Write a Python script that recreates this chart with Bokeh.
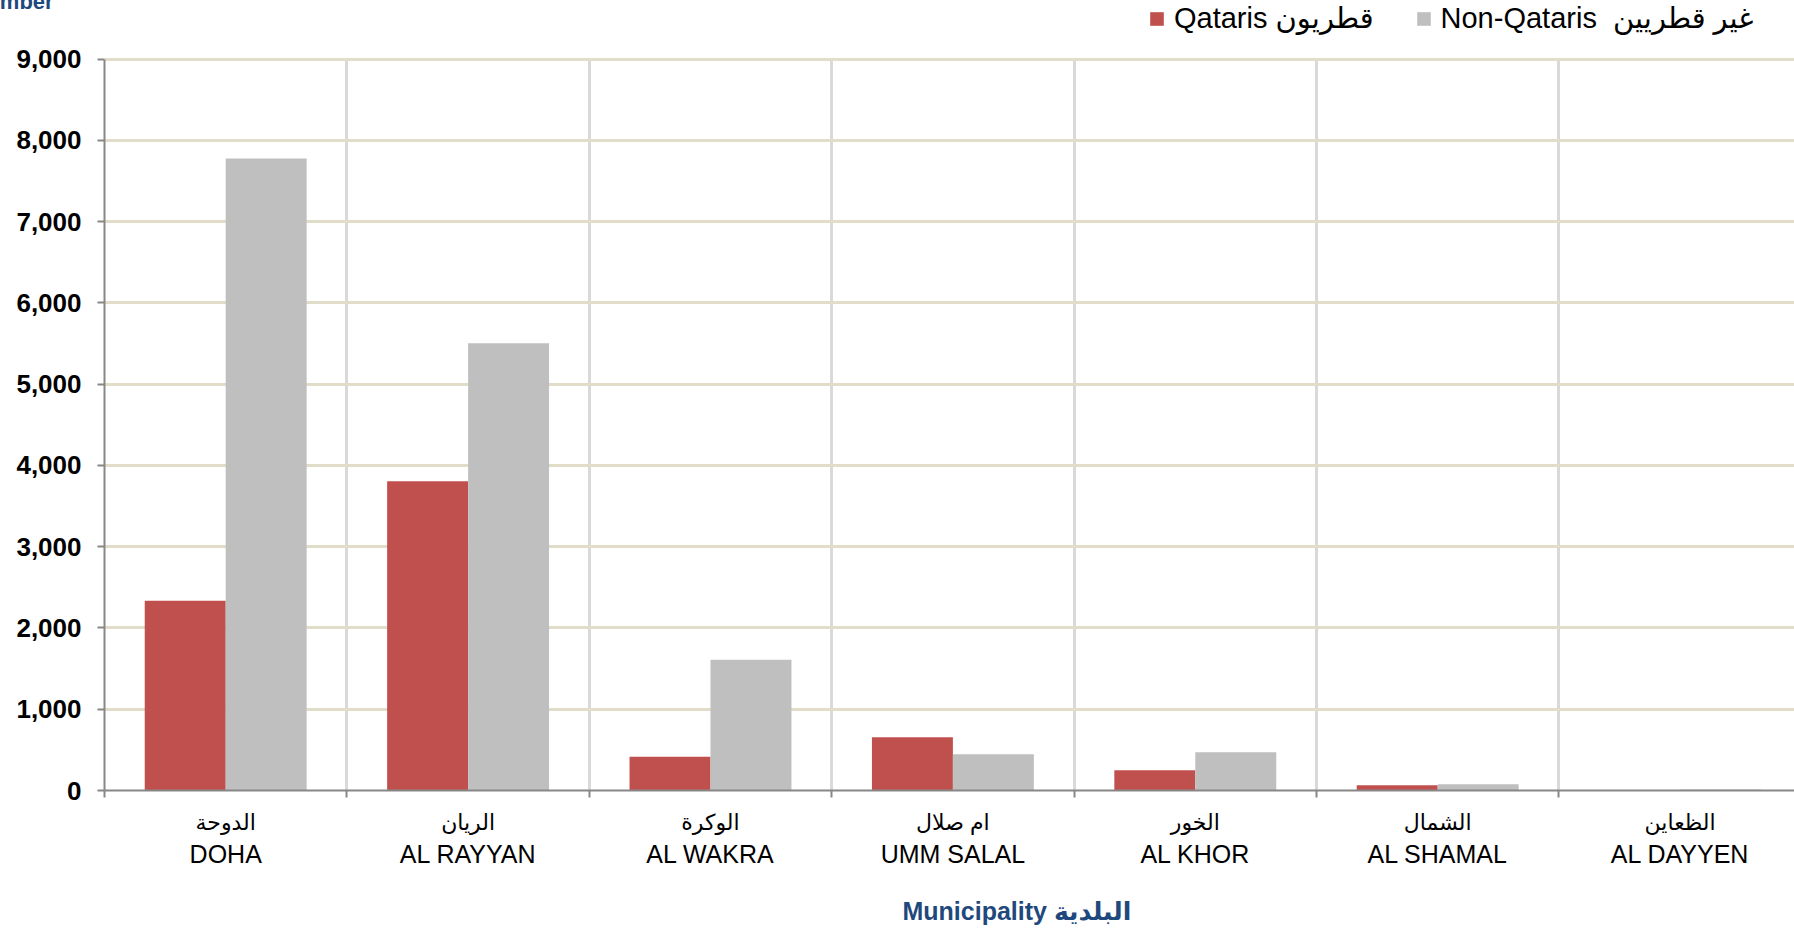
from bokeh.plotting import figure
from bokeh.models import (ColumnDataSource, Range1d, FixedTicker, LinearAxis,
                          NumeralTickFormatter, Title, Legend, LegendItem)
from bokeh.transform import dodge
from bokeh.embed import file_html
from bokeh.resources import INLINE

# ---------------- data ----------------
categories_en = ["DOHA", "AL RAYYAN", "AL WAKRA", "UMM SALAL", "AL KHOR", "AL SHAMAL", "AL DAYYEN"]
categories_ar = ["الدوحة", "الريان", "الوكرة", "ام صلال", "الخور", "الشمال", "الظعاين"]
qataris = [2334, 3807, 416, 655, 250, 65, 3]
non_qataris = [7776, 5505, 1610, 446, 472, 78, 12]
y_ticks = [0, 1000, 2000, 3000, 4000, 5000, 6000, 7000, 8000, 9000]
series_names = ["Qataris قطريون", "Non-Qataris  غير قطريين"]
y_title = "Number"
x_title = "Municipality البلدية"

n = len(categories_en)
centers = [i + 0.5 for i in range(n)]
bounds = list(range(n + 1))
y_min, y_max = y_ticks[0], y_ticks[-1]

src = ColumnDataSource(dict(x=centers, q=qataris, nq=non_qataris))

FONT = "Liberation Sans, Arial, DejaVu Sans"
RED = "#C0504D"
GREY = "#BFBFBF"
BLUE = "#1F497D"
AXIS_GREY = "#878787"

# the frame reaches the top of the page (room for the legend); the value axis stops at 9,000
p = figure(width=1794, height=933, output_backend="svg", toolbar_location=None,
           x_range=Range1d(0, 6.972), y_range=Range1d(0, 9685),
           x_axis_location=None, min_border_left=104, min_border_right=0,
           min_border_top=0, min_border_bottom=143,
           background_fill_color="white", border_fill_color="white",
           outline_line_color=None)

w = 0.334
r_q = p.vbar(x=dodge("x", -0.167, range=p.x_range), top="q", width=w, source=src,
             fill_color=RED, line_color=None)
r_nq = p.vbar(x=dodge("x", 0.167, range=p.x_range), top="nq", width=w, source=src,
              fill_color=GREY, line_color=None)

# y axis
ya = p.yaxis[0]
ya.ticker = FixedTicker(ticks=y_ticks)
ya.bounds = (y_min, y_max)
ya.formatter = NumeralTickFormatter(format="0,0")
ya.major_label_text_font = FONT
ya.major_label_text_font_size = "26px"
ya.major_label_text_font_style = "bold"
ya.major_label_text_color = "black"
ya.major_label_standoff = 16
ya.major_tick_out = 7
ya.major_tick_in = 0
ya.major_tick_line_color = AXIS_GREY
ya.major_tick_line_width = 2
ya.minor_tick_line_color = None
ya.axis_line_color = AXIS_GREY
ya.axis_line_width = 2

# x axis: Arabic names (with boundary tick marks)
xa = LinearAxis(ticker=FixedTicker(ticks=centers, minor_ticks=bounds),
                major_label_overrides={c: a for c, a in zip(centers, categories_ar)})
xa.major_label_text_font = FONT
xa.major_label_text_font_size = "22px"
xa.major_label_text_color = "black"
xa.major_tick_line_color = None
xa.major_tick_out = 0
xa.major_tick_in = 0
xa.major_label_standoff = 12
xa.minor_tick_out = 7
xa.minor_tick_in = 0
xa.minor_tick_line_color = AXIS_GREY
xa.minor_tick_line_width = 2
xa.axis_line_color = AXIS_GREY
xa.axis_line_width = 2
p.add_layout(xa, "below")

# x axis: English names
xb = LinearAxis(ticker=FixedTicker(ticks=centers),
                major_label_overrides={c: e for c, e in zip(centers, categories_en)})
xb.major_label_text_font = FONT
xb.major_label_text_font_size = "25px"
xb.major_label_text_color = "black"
xb.major_tick_line_color = None
xb.minor_tick_line_color = None
xb.major_tick_out = 0
xb.major_tick_in = 0
xb.major_label_standoff = 2
xb.axis_line_color = None
p.add_layout(xb, "below")

# x title under the axes (an empty first line moves it down)
p.add_layout(Title(text="\n" + x_title, align="left", offset=798, standoff=-8,
                   vertical_align="bottom", text_font=FONT, text_font_size="25px",
                   text_font_style="bold", text_color=BLUE), "below")

# grids
p.xgrid.ticker = FixedTicker(ticks=bounds[1:])
p.xgrid.cross_bounds = (y_min, y_max)
p.xgrid.grid_line_color = "#D9D9D9"
p.xgrid.grid_line_width = 3
p.ygrid.ticker = FixedTicker(ticks=y_ticks[1:])
p.ygrid.grid_line_color = "#E2DDC8"
p.ygrid.grid_line_width = 3

# legend (top right, above the 9,000 line)
lg = Legend(items=[LegendItem(label=series_names[0], renderers=[r_q]),
                   LegendItem(label=series_names[1], renderers=[r_nq])],
            orientation="horizontal", location=(1044, 755))
lg.label_text_font = FONT
lg.label_text_font_size = "29px"
lg.label_text_color = "black"
lg.glyph_width = 17
lg.glyph_height = 17
lg.label_standoff = 9
lg.spacing = 41
lg.padding = 0
lg.margin = 0
lg.border_line_color = None
lg.background_fill_alpha = 0
p.add_layout(lg, "center")

# y title (top-left, partly outside the page as in the reference)
p.add_layout(Title(text=y_title, align="left", offset=-134, vertical_align="top",
                   standoff=-24, text_font=FONT, text_font_size="22px",
                   text_font_style="bold", text_color=BLUE), "above")

open("out.html", "w").write(file_html(p, INLINE))
